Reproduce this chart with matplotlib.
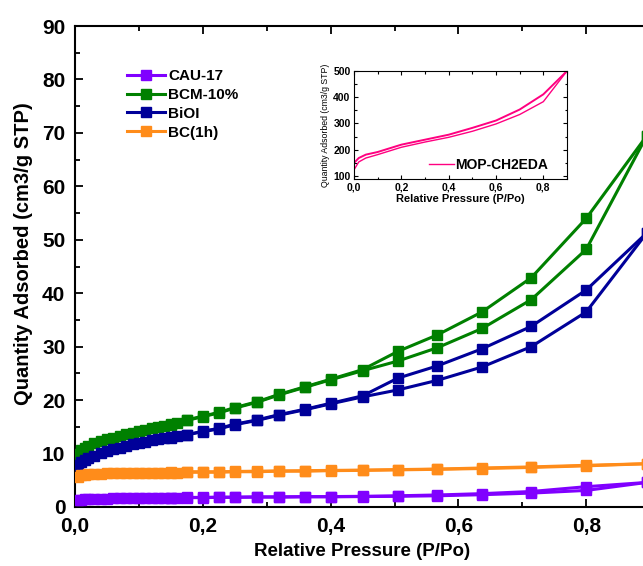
import matplotlib
matplotlib.use('Agg')
import matplotlib.pyplot as plt
from matplotlib.ticker import MultipleLocator, FuncFormatter
from matplotlib.lines import Line2D

# relative pressure points (adsorption branch, then desorption branch)
p_ads = [0.005, 0.01, 0.015, 0.02, 0.03, 0.04, 0.05, 0.06, 0.07, 0.08, 0.09, 0.10, 0.11,
         0.12, 0.13, 0.14, 0.15, 0.16, 0.175, 0.20, 0.225, 0.25, 0.285, 0.32, 0.36, 0.40,
         0.45, 0.505, 0.567, 0.637, 0.714, 0.80, 0.895]
p_des = [0.895, 0.80, 0.714, 0.637, 0.567, 0.505, 0.45, 0.40, 0.36, 0.32, 0.285, 0.25,
         0.225, 0.20, 0.175, 0.15]

cau_ads = [1.3, 1.4, 1.45, 1.5, 1.5, 1.55, 1.55, 1.6, 1.6, 1.6, 1.65, 1.65, 1.65, 1.7, 1.7,
           1.7, 1.7, 1.75, 1.75, 1.75, 1.8, 1.8, 1.85, 1.85, 1.9, 1.9, 1.95, 2.0, 2.1, 2.3,
           2.6, 3.1, 4.6]
cau_des = [4.6, 3.8, 2.9, 2.5, 2.25, 2.1, 2.0, 1.95, 1.95, 1.9, 1.9, 1.85, 1.85, 1.8, 1.8, 1.75]

bcm_ads = [10.0, 10.6, 11.1, 11.4, 11.9, 12.3, 12.7, 13.0, 13.3, 13.6, 13.9, 14.2, 14.4,
           14.7, 14.9, 15.2, 15.4, 15.7, 16.2, 16.9, 17.6, 18.5, 19.6, 21.0, 22.4, 23.8,
           25.5, 27.3, 29.8, 33.4, 38.8, 48.2, 69.5]
bcm_des = [69.5, 54.0, 42.9, 36.5, 32.2, 29.1, 25.7, 23.9, 22.5, 21.1, 19.7, 18.6, 17.7,
           17.0, 16.3, 15.5]

bioi_ads = [7.9, 8.4, 8.8, 9.1, 9.6, 10.1, 10.5, 10.8, 11.1, 11.4, 11.7, 12.0, 12.2, 12.5,
            12.7, 12.9, 13.1, 13.3, 13.5, 14.1, 14.6, 15.4, 16.2, 17.2, 18.2, 19.3, 20.6,
            21.9, 23.7, 26.2, 30.0, 36.5, 51.3]
bioi_des = [51.3, 40.6, 33.8, 29.6, 26.4, 24.1, 20.8, 19.4, 18.3, 17.3, 16.3, 15.5, 14.7,
            14.2, 13.5, 13.0]

bc_ads = [5.6, 5.9, 6.0, 6.1, 6.2, 6.2, 6.3, 6.3, 6.3, 6.35, 6.35, 6.4, 6.4, 6.4, 6.4,
          6.45, 6.45, 6.45, 6.5, 6.5, 6.5, 6.6, 6.6, 6.7, 6.7, 6.8, 6.85, 6.95, 7.05, 7.2,
          7.4, 7.7, 8.1]
bc_des = [8.1, 7.8, 7.5, 7.3, 7.1, 7.0, 6.9, 6.85, 6.8, 6.75, 6.7, 6.65, 6.6, 6.6, 6.6, 6.55]

# inset isotherm MOP-CH2EDA
inset_p = [0.0, 0.02, 0.05, 0.1, 0.2, 0.3, 0.4, 0.5, 0.6, 0.7, 0.8, 0.9]
inset_up = [149, 168, 181, 191, 219, 238, 257, 283, 311, 353, 411, 500]
inset_low = [123, 153, 168, 181, 209, 229, 247, 270, 298, 334, 383, 500]

names = ['CAU-17', 'BCM-10%', 'BiOI', 'BC(1h)']
colors = ['#8000ff', '#008000', '#000099', '#ff8c1a']

plt.rcParams['font.family'] = ['Liberation Sans', 'DejaVu Sans']
plt.rcParams['font.weight'] = 'bold'

W, H = 643, 566
fig = plt.figure(figsize=(W/100, H/100), dpi=100)

def px(x0, y0, x1, y1):
    # pixel box -> figure fraction rect
    return [x0/W, 1-y1/H, (x1-x0)/W, (y1-y0)/H]

comma = FuncFormatter(lambda v, pos: ('%.1f' % v).replace('.', ','))

ax = fig.add_axes(px(75, 26, 665, 507))
series = [(cau_ads, cau_des), (bcm_ads, bcm_des), (bioi_ads, bioi_des), (bc_ads, bc_des)]
order = [3, 0, 2, 1]  # orange/purple under, green on top
for i in order:
    a, d = series[i]
    ax.plot(p_ads, a, '-s', color=colors[i], lw=2.2, ms=6.5, zorder=3+i)
    ax.plot(p_des, d, '-s', color=colors[i], lw=2.2, ms=6.5, zorder=3+i)

ax.set_xlim(0, (665-75)/639)
ax.set_ylim(0, 90)
ax.xaxis.set_major_locator(MultipleLocator(0.2))
ax.xaxis.set_minor_locator(MultipleLocator(0.1))
ax.yaxis.set_major_locator(MultipleLocator(10))
ax.yaxis.set_minor_locator(MultipleLocator(5))
ax.xaxis.set_major_formatter(comma)
ax.tick_params(which='both', direction='in', top=True, right=True, width=1.3)
ax.tick_params(which='major', length=6, labelsize=15, pad=7)
ax.tick_params(which='minor', length=3.5)
for s in ax.spines.values():
    s.set_linewidth(1.5)

fig.text(24/W, 1-254/H, 'Quantity Adsorbed (cm3/g STP)', rotation=90, ha='center',
         va='center', fontsize=14.5, fontweight='bold')
fig.text(362/W, 1-551/H, 'Relative Pressure (P/Po)', ha='center', va='center',
         fontsize=13.5, fontweight='bold')

handles = [Line2D([], [], color=c, lw=2.2, marker='s', ms=6.5) for c in colors]
ax.legend(handles, names, loc='upper left', bbox_to_anchor=(127/W, 1-69/H),
          bbox_transform=fig.transFigure, frameon=False, fontsize=11,
          handlelength=2.5, handletextpad=0.2, labelspacing=0.32, borderpad=0,
          borderaxespad=0)

# inset
ins = fig.add_axes(px(354, 71, 567, 179))
ins.plot(inset_p, inset_up, color='#ff0080', lw=1.4)
ins.plot(inset_p, inset_low, color='#ff0080', lw=1.0)
ins.set_xlim(0, 0.9)
ins.set_ylim(88, 500)
ins.xaxis.set_major_locator(MultipleLocator(0.2))
ins.xaxis.set_minor_locator(MultipleLocator(0.1))
ins.yaxis.set_major_locator(MultipleLocator(100))
ins.yaxis.set_minor_locator(MultipleLocator(50))
ins.xaxis.set_major_formatter(comma)
ins.tick_params(which='both', direction='in', top=True, right=True, width=0.8)
ins.tick_params(which='major', length=3, labelsize=7.5, pad=2.5)
ins.tick_params(which='minor', length=1.8)
ins.set_xlabel('Relative Pressure (P/Po)', fontsize=8, fontweight='bold', labelpad=1)
ins.set_ylabel('Quantity Adsorbed (cm3/g STP)', fontsize=6.3, fontweight='normal', labelpad=2)
ins.legend([Line2D([], [], color='#ff0080', lw=1.0)], ['MOP-CH2EDA'], loc='lower right',
           bbox_to_anchor=(548/W, 1-172/H), bbox_transform=fig.transFigure,
           frameon=False, fontsize=10, handlelength=1.8, handletextpad=0.1,
           borderpad=0, borderaxespad=0)

plt.savefig('out.png', dpi=100)
plt.close()
